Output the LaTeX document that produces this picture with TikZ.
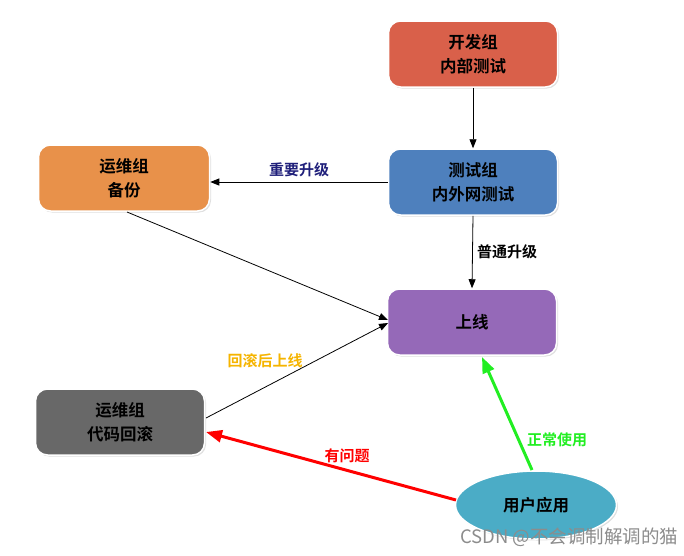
\documentclass[tikz,border=0pt]{standalone}
\usepackage{fontspec}
\newfontfamily\cjk{Noto Sans CJK SC}
\newfontfamily\cjkb{Noto Sans CJK SC Bold}
\usetikzlibrary{shadows,shapes.geometric,arrows.meta}
\definecolor{cdev}{HTML}{D9604A}
\definecolor{ctest}{HTML}{4E80BD}
\definecolor{cbak}{HTML}{E8914A}
\definecolor{cup}{HTML}{9569B8}
\definecolor{croll}{HTML}{686868}
\definecolor{cuser}{HTML}{4BACC6}
\definecolor{cnavy}{HTML}{1F1F7A}
\definecolor{cgold}{HTML}{F5B400}
\definecolor{cgreen}{HTML}{22EE22}
\begin{document}
\begin{tikzpicture}[x=1pt,y=-1pt,
  box/.style={rounded corners=12pt,draw=white,line width=1.5pt,minimum width=169pt,minimum height=66pt,
    align=center,font=\cjkb\fontsize{16.5}{24}\selectfont,drop shadow={opacity=0.25,shadow xshift=1.5pt,shadow yshift=-1.5pt}},
  arr/.style={-{Triangle[length=9pt,width=7pt]},line width=0.8pt},
  lbl/.style={font=\cjkb\fontsize{15}{18}\selectfont}]
\useasboundingbox (0,0) rectangle (684,555);
\node[box,fill=cdev] (dev) at (473,54) {开发组\\内部测试};
\node[box,fill=ctest] (test) at (473,182) {测试组\\内外网测试};
\node[box,fill=cbak,minimum width=171pt] (bak) at (124,178) {运维组\\备份};
\node[box,fill=cup] (up) at (472,322) {上线};
\node[box,fill=croll] (roll) at (120,422) {运维组\\代码回滚};
\node[ellipse,fill=cuser,draw=white,line width=1.5pt,minimum width=161pt,minimum height=68pt,
  font=\cjkb\fontsize{16.5}{20}\selectfont,drop shadow={opacity=0.25,shadow xshift=1.5pt,shadow yshift=-1.5pt}] (user) at (536,505) {用户应用};
\draw[arr] (dev.south) -- (test.north);
\draw[arr] (test.west) -- node[lbl,text=cnavy,above=1pt]{重要升级} (bak.east |- test.west);
\draw[arr] (test.south) -- node[lbl,right=1pt]{普通升级} (up.north);
\coordinate (bakout) at (127,212);
\draw[arr] (bakout) -- (388,320);
\coordinate (rollout) at (206,418);
\draw[arr] (rollout) -- (388,323);
\node[lbl,text=cgold] (rb) at (265,361) {回滚后上线};
\coordinate (g1) at (532,470);
\draw[-{Triangle[length=16pt,width=12pt]},line width=3pt,cgreen] (g1) -- (482,357);
\node[lbl,text=cgreen] (ok) at (557,440) {正常使用};
\coordinate (r1) at (456,500);
\draw[-{Triangle[length=16pt,width=12pt]},line width=3pt,red] (r1) -- (206,432);
\node[lbl,text=red] (pb) at (347,456) {有问题};
\node[font=\cjk\fontsize{18.5}{22}\selectfont,text=black!45,anchor=east] (wm) at (682,537) {CSDN @不会调制解调的猫};
\end{tikzpicture}
\end{document}
